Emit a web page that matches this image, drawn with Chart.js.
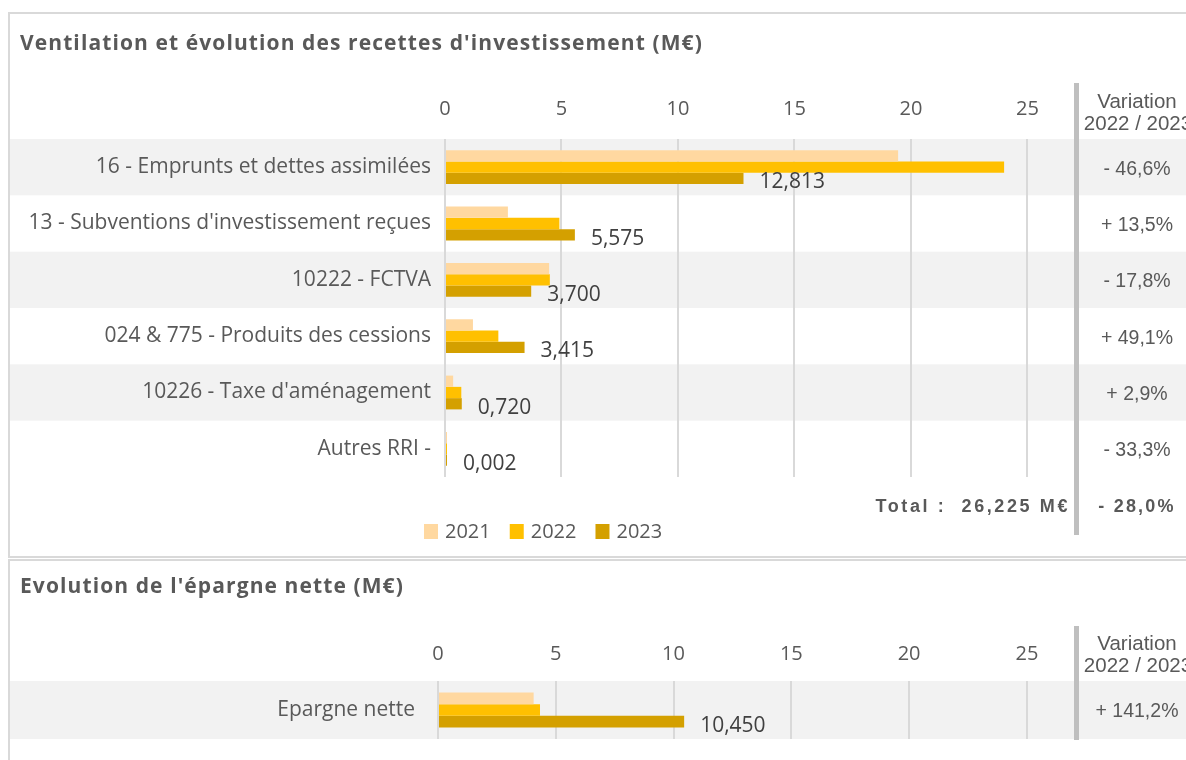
<!DOCTYPE html>
<html>
<head>
<meta charset="utf-8">
<script src="https://cdn.jsdelivr.net/npm/chart.js@4.4.3/dist/chart.umd.min.js"></script>
<style>
    html, body { margin: 0; padding: 0; background: #fff; overflow: hidden; }
    #wrap { position: relative; width: 1186px; height: 760px; overflow: hidden; }
    .panel { position: absolute; left: 8px; width: 1190px; border: 2px solid #d9d9d9; box-sizing: border-box; }
    #p1 { top: 12px; height: 546px; }
    #p2 { top: 559px; height: 220px; }
    canvas { position: absolute; left: 0; }
    #recettes { top: 0; }
    #epargne { top: 561px; }
</style>
</head>
<body>
<div id="wrap">
    <div class="panel" id="p1"></div>
    <div class="panel" id="p2"></div>
    <canvas id="recettes" width="1186" height="558"></canvas>
    <canvas id="epargne" width="1186" height="199"></canvas>
</div>

<script>
// -----------------------------
// Data
// -----------------------------

const years = ["2021", "2022", "2023"];
const yearColors = ["#FFD8A0", "#FFC000", "#D4A000"];

const categories = [
    "16 - Emprunts et dettes assimilées",
    "13 - Subventions d'investissement reçues",
    "10222 - FCTVA",
    "024 & 775 - Produits des cessions",
    "10226 - Taxe d'aménagement",
    "Autres RRI -"
];
const recettes2021 = [19.45, 2.70, 4.47, 1.20, 0.35, 0.003];
const recettes2022 = [24.00, 4.91, 4.50, 2.29, 0.70, 0.003];
const recettes2023 = [12.813, 5.575, 3.700, 3.415, 0.720, 0.002];
const recettesVariations = ["- 46,6%", "+ 13,5%", "- 17,8%", "+ 49,1%", "+ 2,9%", "- 33,3%"];
const totalRecettes = "Total :  26,225 M€";
const totalVariation = "- 28,0%";

const epargneCategories = ["Epargne nette"];
const epargne2021 = [4.06];
const epargne2022 = [4.33];
const epargne2023 = [10.450];
const epargneVariations = ["+ 141,2%"];

const axisMax = 27;
const axisStep = 5;

// -----------------------------
// Plugin: bands, titles, variation column, labels, legend
// -----------------------------

const TEXT = "#595959";

const decorPlugin = {
    id: "decor",
    beforeDraw(chart) {
        const ctx = chart.ctx;
        const yScale = chart.scales.y;
        const area = chart.chartArea;
        const half = area.height / chart.data.labels.length / 2;

        ctx.save();
        ctx.fillStyle = "#f2f2f2";
        chart.data.labels.forEach((_, i) => {
            if (i % 2) return;
            const cy = yScale.getPixelForValue(i);
            ctx.fillRect(10, cy - half, chart.width - 10, half * 2);
        });
        ctx.restore();
    },
    afterDraw(chart, args, opts) {
        const ctx = chart.ctx;
        const area = chart.chartArea;
        const yScale = chart.scales.y;

        ctx.save();
        ctx.textBaseline = "middle";

        // Title
        ctx.fillStyle = TEXT;
        ctx.textAlign = "left";
        ctx.font = "bold 21px 'Open Sans'";
        ctx.letterSpacing = "1.1px";
        ctx.fillText(opts.title, 20, opts.titleY);
        ctx.letterSpacing = "0px";

        // Separator before the variation column
        ctx.fillStyle = "#bfbfbf";
        const top = area.top + opts.lineFrom;
        ctx.fillRect(1074, top, 5, area.bottom + opts.lineTo - top);

        // Variation column
        ctx.fillStyle = TEXT;
        ctx.textAlign = "center";
        ctx.font = "20.5px 'Liberation Sans'";
        ctx.fillText("Variation", 1137, area.top - 37);
        ctx.fillText("2022 / 2023", 1138, area.top - 15);
        ctx.font = "19.5px 'Liberation Sans'";
        opts.variations.forEach((v, i) => {
            ctx.fillText(v, 1137, yScale.getPixelForValue(i) + 2);
        });

        // Value labels of the last year
        const last = chart.data.datasets.length - 1;
        const values = chart.data.datasets[last].data;
        ctx.font = "21px 'Open Sans'";
        ctx.fillStyle = "#404040";
        ctx.textAlign = "left";
        chart.getDatasetMeta(last).data.forEach((bar, i) => {
            ctx.fillText(values[i].toFixed(3).replace(".", ","), bar.x + 16, bar.y + 4);
        });

        if (opts.total) {
            ctx.fillStyle = TEXT;
            ctx.font = "bold 18px 'Liberation Sans'";
            ctx.textAlign = "right";
            ctx.letterSpacing = "2.6px";
            ctx.fillText(opts.total, 1070, area.bottom + 30);
            ctx.textAlign = "center";
            ctx.letterSpacing = "2.2px";
            ctx.fillText(opts.totalVariation, 1137, area.bottom + 30);
            ctx.letterSpacing = "0px";
        }

        if (opts.legend) {
            let x = 424;
            const ly = area.bottom + 55;
            ctx.font = "20px 'Open Sans'";
            ctx.textAlign = "left";
            chart.data.datasets.forEach(ds => {
                ctx.fillStyle = ds.backgroundColor;
                ctx.fillRect(x, ly - 8, 14, 15);
                ctx.fillStyle = TEXT;
                ctx.fillText(ds.label, x + 21, ly);
                x += 21 + ctx.measureText(ds.label).width + 19;
            });
        }

        ctx.restore();
    }
};

// -----------------------------
// Chart builder
// -----------------------------

function buildChart({ canvasId, labels, series, yWidth, xHeight, tickPadding, labelPadding, bottom, decor }) {
    return new Chart(document.getElementById(canvasId), {
        type: "bar",
        data: {
            labels,
            datasets: series.map((data, i) => ({
                label: years[i],
                data,
                backgroundColor: yearColors[i],
                borderWidth: 0,
                categoryPercentage: 0.6,
                barPercentage: 1.0,
                minBarLength: 2
            }))
        },
        options: {
            indexAxis: "y",
            responsive: false,
            animation: false,
            devicePixelRatio: 1,
            layout: { padding: { top: 0, left: 0, right: 112, bottom } },
            plugins: {
                legend: { display: false },
                tooltip: { enabled: false },
                decor
            },
            scales: {
                x: {
                    position: "top",
                    min: 0,
                    max: axisMax,
                    border: { display: false },
                    grid: { color: "#d9d9d9", lineWidth: 2, drawTicks: false },
                    ticks: {
                        stepSize: axisStep,
                        includeBounds: false,
                        padding: tickPadding,
                        color: TEXT,
                        font: { family: "Open Sans", size: 20 }
                    },
                    afterFit: scale => { scale.height = xHeight; }
                },
                y: {
                    border: { display: false },
                    grid: { display: false, drawTicks: false },
                    ticks: {
                        padding: labelPadding,
                        color: TEXT,
                        font: { family: "Open Sans", size: 21 }
                    },
                    afterFit: scale => {
                        scale.width = yWidth;
                        scale.paddingTop = 0;
                        scale.paddingBottom = 0;
                    }
                }
            }
        },
        plugins: [decorPlugin]
    });
}

buildChart({
    canvasId: "recettes",
    labels: categories,
    series: [recettes2021, recettes2022, recettes2023],
    yWidth: 445,
    xHeight: 139,
    tickPadding: 18,
    labelPadding: 14,
    bottom: 81,
    decor: {
        title: "Ventilation et évolution des recettes d'investissement (M€)",
        titleY: 44,
        variations: recettesVariations,
        lineFrom: -56,
        lineTo: 58,
        total: totalRecettes,
        totalVariation,
        legend: true
    }
});

buildChart({
    canvasId: "epargne",
    labels: epargneCategories,
    series: [epargne2021, epargne2022, epargne2023],
    yWidth: 438,
    xHeight: 120,
    tickPadding: 15,
    labelPadding: 23,
    bottom: 21,
    decor: {
        title: "Evolution de l'épargne nette (M€)",
        titleY: 26,
        variations: epargneVariations,
        lineFrom: -55,
        lineTo: 1,
        total: null,
        legend: false
    }
});
</script>
</body>
</html>
